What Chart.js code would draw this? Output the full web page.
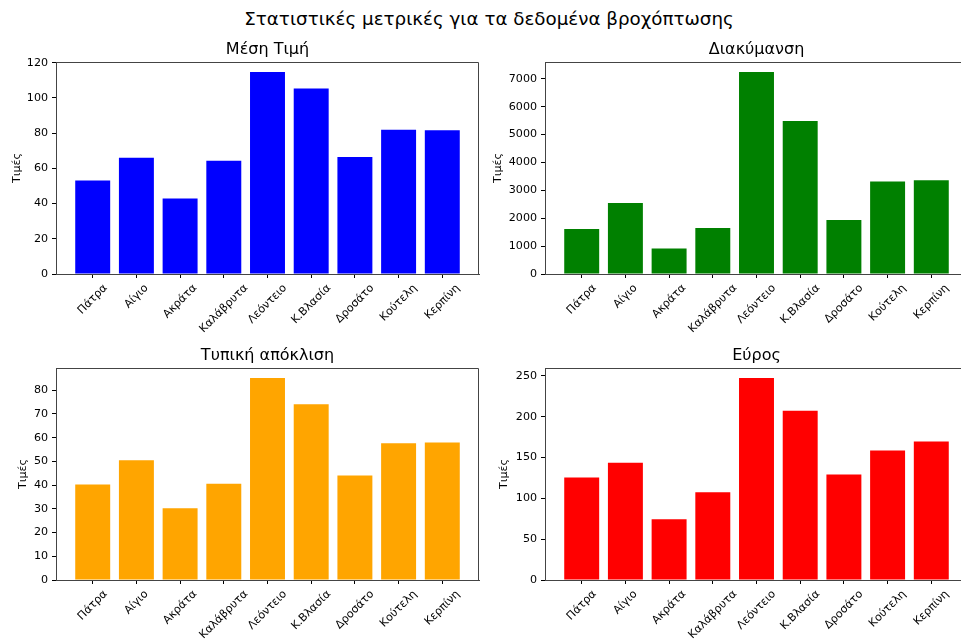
<!DOCTYPE html>
<html lang="el">
<head>
<meta charset="utf-8">
<title>Στατιστικές μετρικές για τα δεδομένα βροχόπτωσης</title>
<script src="https://cdn.jsdelivr.net/npm/chart.js@4.4.1/dist/chart.umd.min.js"></script>
<style>
  html, body { margin: 0; padding: 0; background: #fff; overflow: hidden; }
  body { width: 961px; height: 639px; position: relative; font-family: 'DejaVu Sans', sans-serif; }
  #suptitle { position: absolute; left: 0; width: 978px; top: 8px; text-align: center; font-size: 18.3px; line-height: 22px; color: #000; white-space: nowrap; }
  canvas { position: absolute; }
</style>
</head>
<body>
<div id="suptitle">Στατιστικές μετρικές για τα δεδομένα βροχόπτωσης</div>
<canvas id="chartMean" width="480" height="305" style="left:0;top:30px"></canvas>
<canvas id="chartVariance" width="488" height="305" style="left:480px;top:30px"></canvas>
<canvas id="chartStd" width="480" height="304" style="left:0;top:335px"></canvas>
<canvas id="chartRange" width="488" height="304" style="left:480px;top:335px"></canvas>
<script>
// Σταθμοί και στατιστικά βροχόπτωσης
const stations = ['Πάτρα', 'Αίγιο', 'Ακράτα', 'Καλάβρυτα', 'Λεόντειο', 'Κ.Βλασία', 'Δροσάτο', 'Κούτελη', 'Κερπίνη'];
const meanValues = [53.1, 66.1, 42.9, 64.3, 114.7, 105.4, 66.5, 82.0, 81.6];
const varianceValues = [1616, 2550, 912, 1648, 7242, 5491, 1936, 3318, 3364];
const stdValues = [40.2, 50.5, 30.2, 40.6, 85.1, 74.1, 44.0, 57.6, 58.0];
const rangeValues = [125.6, 143.5, 74.4, 107.3, 247.2, 207.3, 129.3, 158.5, 169.5];

const meanTicks = [0, 20, 40, 60, 80, 100, 120];
const varianceTicks = [0, 1000, 2000, 3000, 4000, 5000, 6000, 7000];
const stdTicks = [0, 10, 20, 30, 40, 50, 60, 70, 80];
const rangeTicks = [0, 50, 100, 150, 200, 250];

const FONT = "'DejaVu Sans', sans-serif";
const TICK_SIZE = 11.1;
const TITLE_SIZE = 16;
const SPINE = '#444';

// πάνω/δεξιό πλαίσιο και πλάγιες ετικέτες σταθμών (κεντραρισμένες στο tick)
const framePlugin = {
  id: 'frame',
  afterDraw(chart) {
    const { ctx, chartArea: a } = chart;
    const x = chart.scales.x;
    ctx.save();
    ctx.strokeStyle = SPINE;
    ctx.lineWidth = 1;
    ctx.beginPath();
    ctx.moveTo(a.left + 0.5, a.top + 0.5);
    ctx.lineTo(a.right - 0.5, a.top + 0.5);
    ctx.lineTo(a.right - 0.5, a.bottom + 0.5);
    ctx.stroke();

    ctx.fillStyle = '#000';
    ctx.font = TICK_SIZE + 'px ' + FONT;
    ctx.textAlign = 'center';
    ctx.textBaseline = 'middle';
    x.ticks.forEach(t => {
      const label = stations[t.value];
      const w = ctx.measureText(label).width;
      const h = TICK_SIZE * 1.17;
      const px = x.getPixelForValue(t.value);
      const py = a.bottom + 7.8 + (w + h) * Math.SQRT1_2 / 2;
      ctx.save();
      ctx.translate(px, py);
      ctx.rotate(-Math.PI / 4);
      ctx.fillText(label, 0, 0);
      ctx.restore();
    });
    ctx.restore();
  }
};

function drawPanel(p) {
  const canvas = document.getElementById(p.id);
  const titleBox = TITLE_SIZE * 1.2 + 2.2;
  const padTop = p.plotTop - p.top - titleBox;
  const xAxisHeight = canvas.height - (p.plotBottom - p.top);
  const yMax = Math.max(...p.values) * 1.05;

  new Chart(canvas, {
    type: 'bar',
    data: {
      datasets: [{
        data: p.values.map((v, i) => ({ x: i, y: v })),
        backgroundColor: p.color,
        borderWidth: 0,
        categoryPercentage: 1,
        barPercentage: 0.8
      }]
    },
    options: {
      responsive: false,
      animation: false,
      devicePixelRatio: 1,
      layout: { padding: { top: padTop, right: p.padRight, left: 0, bottom: 0 } },
      plugins: {
        legend: { display: false },
        tooltip: { enabled: false },
        title: {
          display: true, text: p.title, fullSize: false, color: '#000',
          font: { family: FONT, size: TITLE_SIZE, weight: 'normal' },
          padding: { top: 0, bottom: 2.2 }
        }
      },
      scales: {
        x: {
          type: 'linear', min: -0.84, max: 8.84, offset: false,
          afterBuildTicks: s => { s.ticks = stations.map((_, i) => ({ value: i })); },
          afterFit: s => { s.height = xAxisHeight; },
          ticks: { display: false },
          grid: { display: true, offset: false, drawOnChartArea: false, drawTicks: true, tickLength: 4, color: '#000', lineWidth: 1 },
          border: { display: true, color: SPINE, width: 1 }
        },
        y: {
          min: 0, max: yMax,
          afterBuildTicks: s => { s.ticks = p.ticks.map(v => ({ value: v })); },
          afterFit: s => { s.width = p.yAxisWidth; },
          ticks: { color: '#000', font: { family: FONT, size: TICK_SIZE }, padding: 4, callback: v => String(v) },
          grid: { drawOnChartArea: false, tickLength: 4, color: '#000', lineWidth: 1 },
          border: { display: true, color: SPINE, width: 1 },
          title: {
            display: true, text: 'Τιμές', color: '#000',
            font: { family: FONT, size: TICK_SIZE },
            padding: { top: p.yLabelPad, bottom: 0 }
          }
        }
      }
    },
    plugins: [framePlugin]
  });
}

drawPanel({ id: 'chartMean', title: 'Μέση Τιμή', values: meanValues, ticks: meanTicks, color: '#0000ff',
  top: 30, plotTop: 62, plotBottom: 274, yAxisWidth: 56, padRight: 1, yLabelPad: 10.3 });
drawPanel({ id: 'chartVariance', title: 'Διακύμανση', values: varianceValues, ticks: varianceTicks, color: '#008000',
  top: 30, plotTop: 62, plotBottom: 274, yAxisWidth: 65, padRight: 0, yLabelPad: 11.3 });
drawPanel({ id: 'chartStd', title: 'Τυπική απόκλιση', values: stdValues, ticks: stdTicks, color: '#ffa500',
  top: 335, plotTop: 368, plotBottom: 580, yAxisWidth: 56, padRight: 1, yLabelPad: 16.1 });
drawPanel({ id: 'chartRange', title: 'Εύρος', values: rangeValues, ticks: rangeTicks, color: '#ff0000',
  top: 335, plotTop: 368, plotBottom: 580, yAxisWidth: 65, padRight: 0, yLabelPad: 17.1 });
</script>
</body>
</html>
